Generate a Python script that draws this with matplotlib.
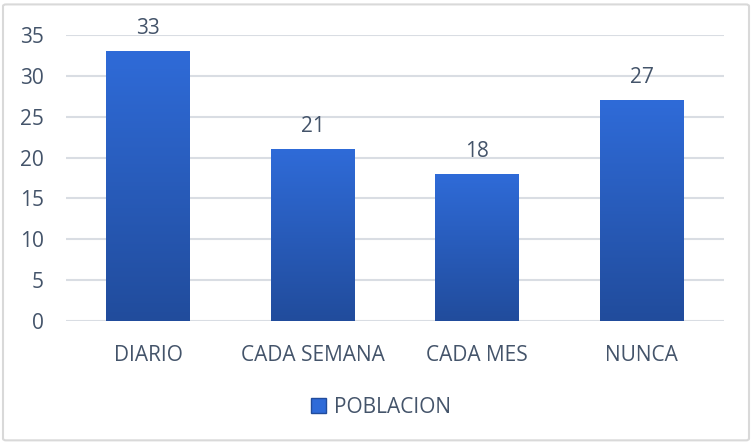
import numpy as np
import matplotlib.pyplot as plt
from matplotlib.colors import LinearSegmentedColormap
from matplotlib.patches import FancyBboxPatch, Rectangle

categories = ['DIARIO', 'CADA SEMANA', 'CADA MES', 'NUNCA']
poblacion = [33, 21, 18, 27]
yticks = [0, 5, 10, 15, 20, 25, 30, 35]

text_color = '#44546A'
grid_color = '#D9DDE3'
top_blue = '#2F6BD8'
bottom_blue = '#214C9C'

plt.rcParams['font.family'] = ['Open Sans', 'DejaVu Sans']

fig = plt.figure(figsize=(7.52, 4.43), dpi=100)
ax = fig.add_axes([0.0878, 0.2754, 0.875, 0.6456])

# outer chart frame
fig.patches.append(FancyBboxPatch((0.004, 0.006), 0.992, 0.984,
                                  boxstyle='round,pad=0,rounding_size=0.004',
                                  transform=fig.transFigure, fill=False,
                                  edgecolor='#D9D9D9', linewidth=1.5))

x = np.arange(len(categories))
bars = ax.bar(x, poblacion, width=0.51, color=top_blue, zorder=2,
              label='POBLACION')

# vertical gradient inside each bar
cmap = LinearSegmentedColormap.from_list('blues', [bottom_blue, top_blue])
grad = np.linspace(0, 1, 256).reshape(-1, 1)
for b in bars:
    x0, y0 = b.get_x(), b.get_y()
    w, h = b.get_width(), b.get_height()
    im = ax.imshow(grad, cmap=cmap, origin='lower', aspect='auto',
                   extent=[x0, x0 + w, y0, y0 + h], zorder=3)
    im.set_clip_path(b)
    ax.text(x0 + w / 2, h + 1.5, str(h), ha='center', va='bottom',
            fontsize=15, color=text_color, zorder=4)

ax.set_xlim(-0.5, len(categories) - 0.5)
ax.set_ylim(0, 35)
ax.set_yticks(yticks)
ax.set_xticks(x)
ax.set_xticklabels(categories)
ax.yaxis.grid(True, color=grid_color, linewidth=1.5, zorder=0)
ax.set_axisbelow(True)
for s in ax.spines.values():
    s.set_visible(False)
ax.tick_params(axis='both', length=0, labelsize=15, labelcolor=text_color)
ax.tick_params(axis='x', pad=17)
ax.tick_params(axis='y', pad=16)

handle = Rectangle((0, 0), 1, 1, facecolor=top_blue, edgecolor=bottom_blue)
fig.legend([handle], ['POBLACION'], loc='center', bbox_to_anchor=(0.507, 0.08),
           frameon=False, fontsize=15, labelcolor=text_color,
           handlelength=0.7, handleheight=0.7, handletextpad=0.4)

fig.savefig('out.png', dpi=100)
